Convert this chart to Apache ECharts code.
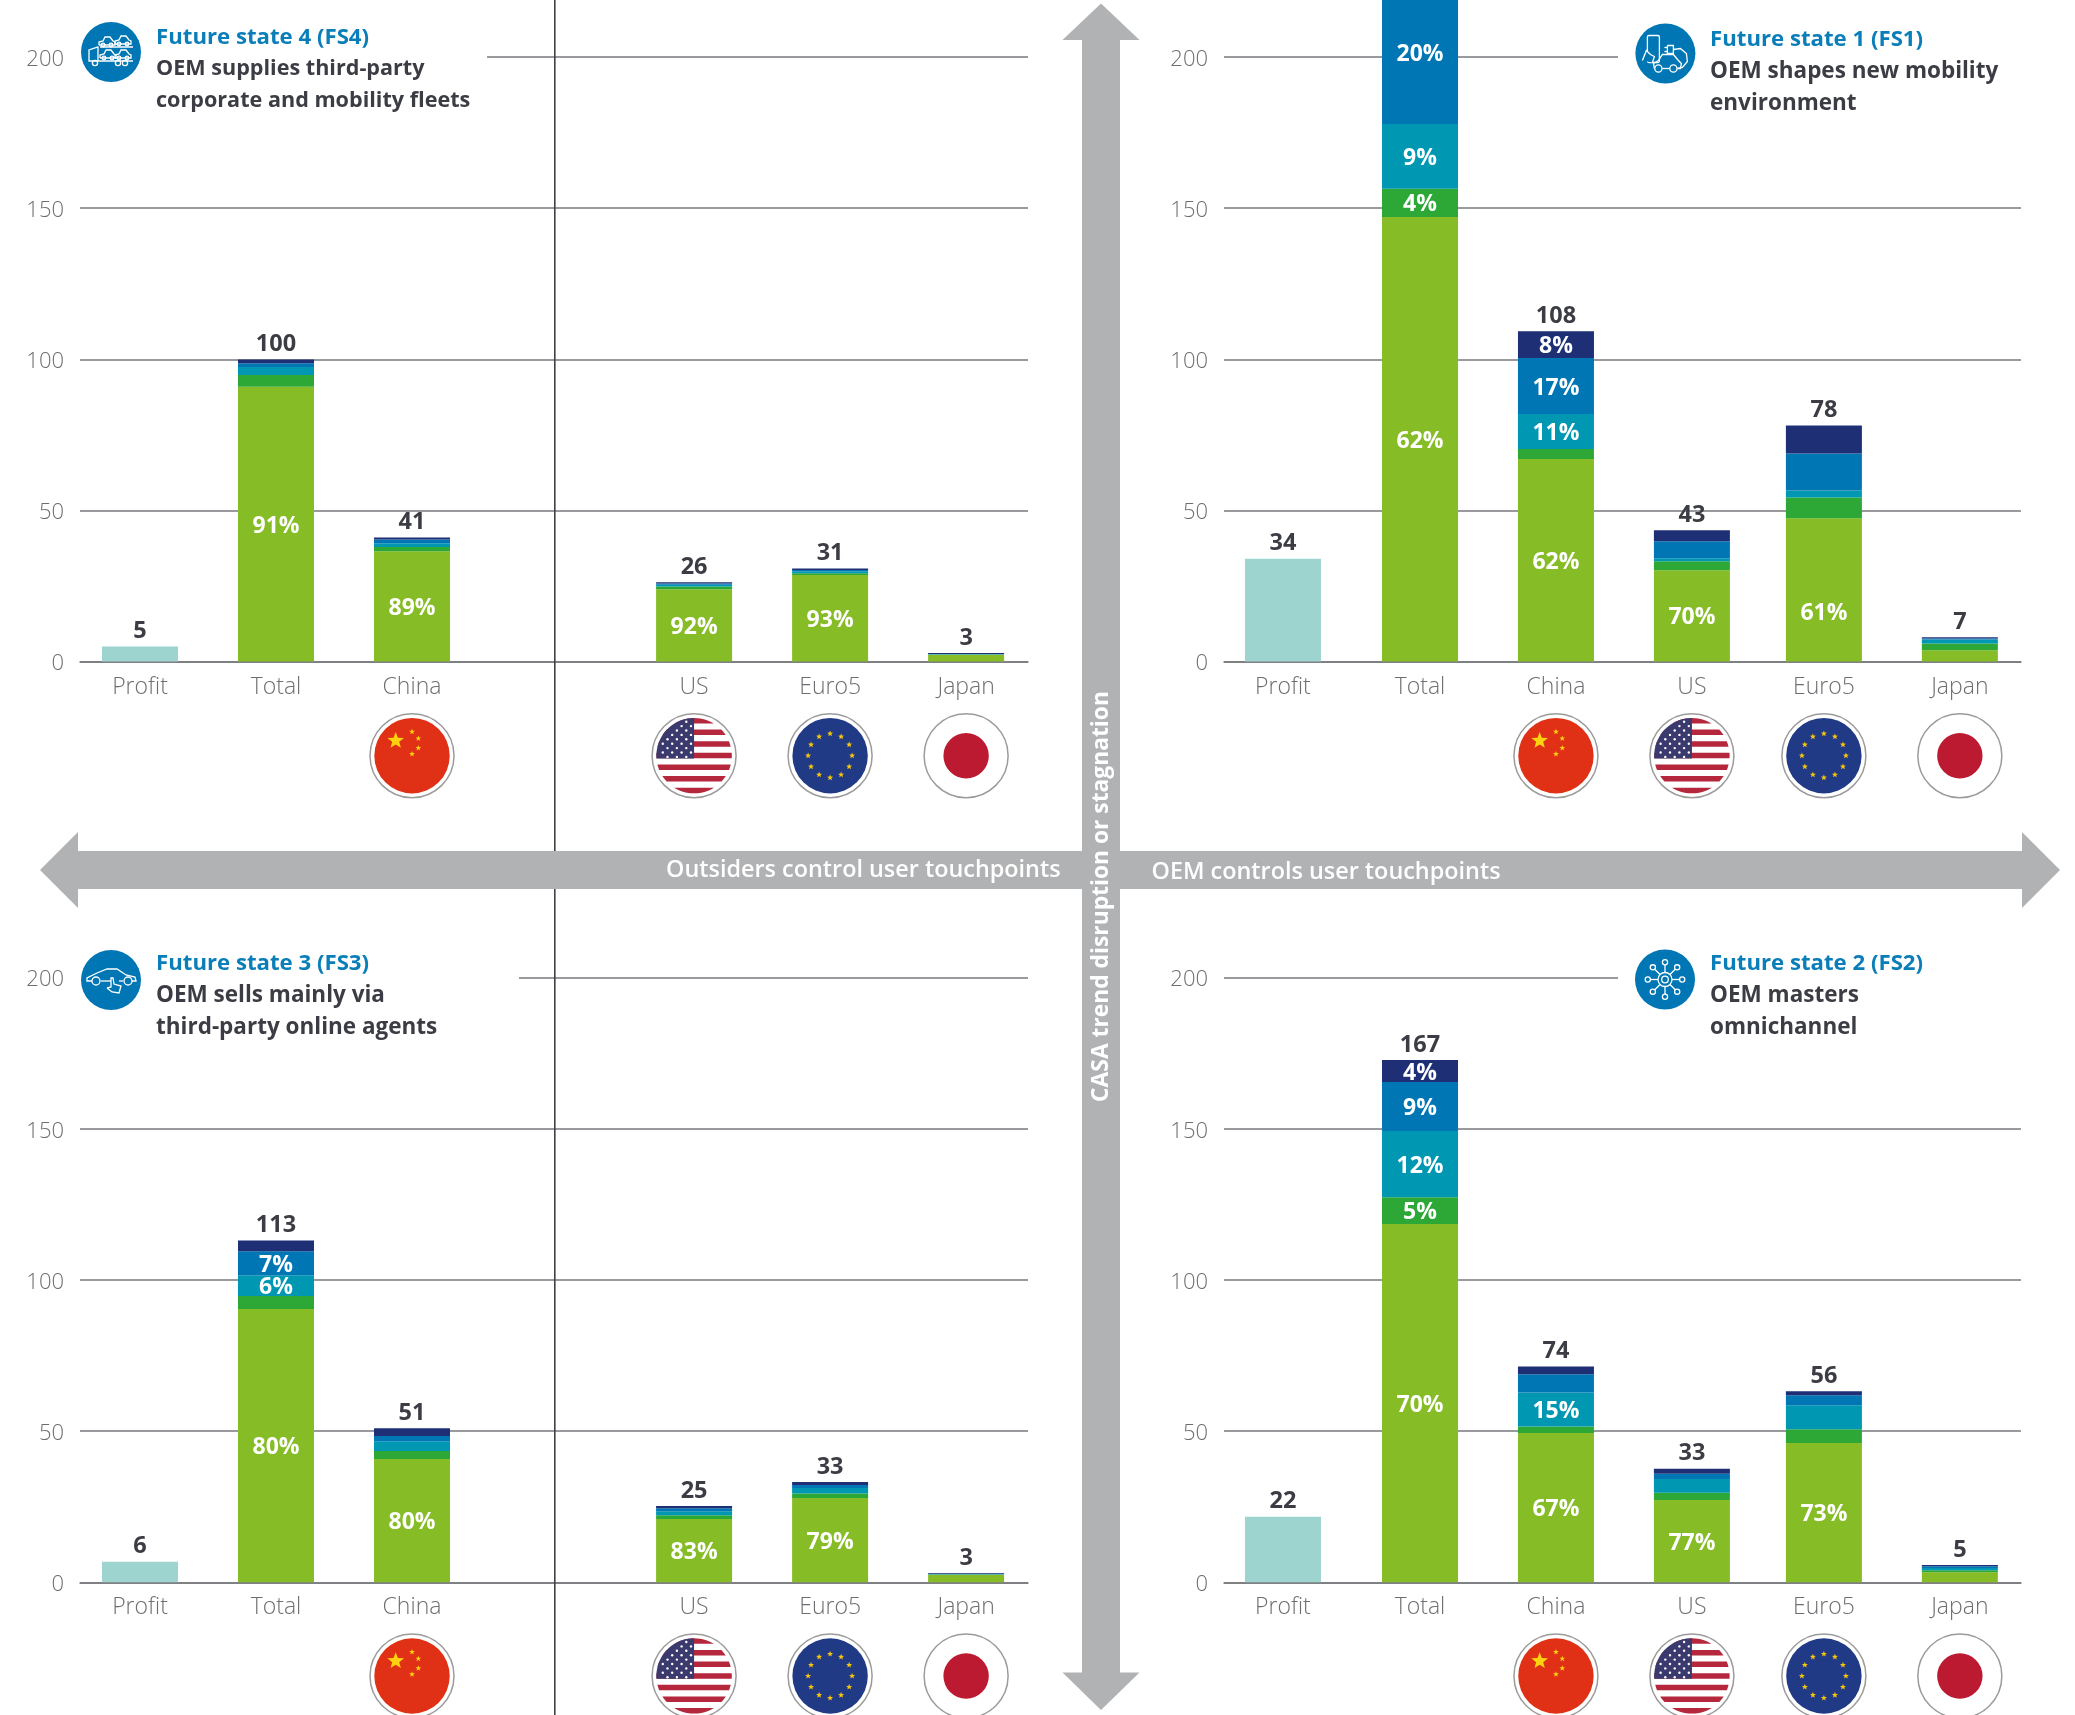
<!DOCTYPE html>
<html>
<head>
<meta charset="utf-8">
<title>Future states</title>
<script src="https://cdn.jsdelivr.net/npm/echarts@6/dist/echarts.min.js"></script>
<style>
  html, body { margin: 0; padding: 0; background: #fff; }
  #view { width: 2075px; height: 1715px; }
</style>
</head>
<body>
<div id="view"></div>
<script>
const categories = ["Profit", "Total", "China", "US", "Euro5", "Japan"];
const yTicks = [0, 50, 100, 150, 200];

// FS4
const fs4Profit = [5, 0, 0, 0, 0, 0];
const fs4Lime = [0, 90.9, 36.5, 23.9, 28.6, 2.2];
const fs4Green = [0, 3.9, 1.4, 0.9, 0.6, 0.1];
const fs4Teal = [0, 2.6, 1.2, 0.6, 0.7, 0.1];
const fs4Blue = [0, 1.3, 1.3, 0.4, 0.4, 0.1];
const fs4Navy = [0, 1.2, 0.6, 0.4, 0.5, 0.3];
const fs4Totals = [5, 100, 41, 26, 31, 3];
const fs4LimePct = [null, 91, 89, 92, 93, null];

// FS1, the Total bar runs off the top of the page so its total is not visible
const fs1Profit = [34, 0, 0, 0, 0, 0];
const fs1Lime = [0, 147.1, 67, 30.2, 47.4, 3.75];
const fs1Green = [0, 9.3, 3.3, 3, 6.9, 2.2];
const fs1Teal = [0, 21.5, 11.6, 1, 2.3, 1.3];
const fs1Blue = [0, 47.4, 18.5, 5.6, 12.2, 0.4];
const fs1Navy = [0, 11.8, 8.9, 3.6, 9.3, 0.4];
const fs1Totals = [34, null, 108, 43, 78, 7];
const fs1LimePct = [null, 62, 62, 70, 61, null];
const fs1GreenPct = [null, 4, null, null, null, null];
const fs1TealPct = [null, 9, 11, null, null, null];
const fs1BluePct = [null, 20, 17, null, null, null];
const fs1NavyPct = [null, null, 8, null, null, null];

// FS3
const fs3Profit = [6.8, 0, 0, 0, 0, 0];
const fs3Lime = [0, 90.4, 40.8, 20.9, 27.9, 2.5];
const fs3Green = [0, 4.3, 2.6, 1.3, 1.5, 0.1];
const fs3Teal = [0, 6.9, 3.3, 1.3, 1.8, 0.1];
const fs3Blue = [0, 7.9, 1.7, 1, 1, 0.1];
const fs3Navy = [0, 3.6, 2.6, 0.7, 1, 0.3];
const fs3Totals = [6, 113, 51, 25, 33, 3];
const fs3LimePct = [null, 80, 80, 83, 79, null];
const fs3TealPct = [null, 6, null, null, null, null];
const fs3BluePct = [null, 7, null, null, null, null];

// FS2
const fs2Profit = [21.7, 0, 0, 0, 0, 0];
const fs2Lime = [0, 118.5, 49.4, 27.2, 46.1, 3.3];
const fs2Green = [0, 8.9, 2.1, 2.4, 4.5, 0.7];
const fs2Teal = [0, 21.9, 11.3, 4.6, 8, 0.7];
const fs2Blue = [0, 16.2, 6, 1.7, 3.3, 0.6];
const fs2Navy = [0, 7.3, 2.6, 1.7, 1.3, 0.4];
const fs2Totals = [22, 167, 74, 33, 56, 5];
const fs2LimePct = [null, 70, 67, 77, 73, null];
const fs2GreenPct = [null, 5, null, null, null, null];
const fs2TealPct = [null, 12, 15, null, null, null];
const fs2BluePct = [null, 9, null, null, null, null];
const fs2NavyPct = [null, 4, null, null, null, null];

const FONT = '"Open Sans", "Noto Sans", sans-serif';
const colors = { profit: "#9ed4cf", lime: "#86bc25", green: "#2da836", teal: "#0097b2", blue: "#0076b4", navy: "#1e2f76" };
const GRID_LINE = "#77787c";
const TICK_TEXT = "#6d6e71";
const DARK_TEXT = "#3c3d44";
const BLUE_TEXT = "#0a7eb8";
const ARROW = "#b1b2b4";

// x axis runs in category steps, the two sides are not evenly spaced
const leftSlots = [0, 1, 2, 4.074, 5.074, 6.074];
const rightSlots = [0, 1.004, 2, 2.996, 3.963, 4.959];

const panels = [
  {
    title: "Future state 4 (FS4)", lines: ["OEM supplies third-party", "corporate and mobility fleets"], lineFont: 21.6,
    textX: 156, textY: 37.3, icon: [111, 52], icon_type: "fleet", mask: [78, 487],
    left: 80, width: 948, top: 57, bottom: 661.5, xMin: -0.441, xMax: 6.529, yMax: 200, slots: leftSlots, flagY: 755.7, clip: true,
    profit: fs4Profit, lime: fs4Lime, green: fs4Green, teal: fs4Teal, blue: fs4Blue, navy: fs4Navy, totals: fs4Totals,
    limePct: fs4LimePct,
  },
  {
    title: "Future state 1 (FS1)", lines: ["OEM shapes new mobility", "environment"], lineFont: 22.5,
    textX: 1710, textY: 39.3, icon: [1665.4, 53.5], icon_type: "plug", mask: [1618, 2025],
    left: 1224, width: 797, top: 0, bottom: 661.5, xMin: -0.432, xMax: 5.407, yMax: 218.9, slots: rightSlots, flagY: 755.7, clip: false,
    profit: fs1Profit, lime: fs1Lime, green: fs1Green, teal: fs1Teal, blue: fs1Blue, navy: fs1Navy, totals: fs1Totals,
    limePct: fs1LimePct, greenPct: fs1GreenPct, tealPct: fs1TealPct, bluePct: fs1BluePct, navyPct: fs1NavyPct,
    limeShift: { 4: 24 }, // the Euro5 label sits lower in its bar
  },
  {
    title: "Future state 3 (FS3)", lines: ["OEM sells mainly via", "third-party online agents"], lineFont: 22.5,
    textX: 156, textY: 963.3, icon: [111, 980], icon_type: "car", mask: [78, 519],
    left: 80, width: 948, top: 977.7, bottom: 1582.3, xMin: -0.441, xMax: 6.529, yMax: 200, slots: leftSlots, flagY: 1676, clip: true,
    profit: fs3Profit, lime: fs3Lime, green: fs3Green, teal: fs3Teal, blue: fs3Blue, navy: fs3Navy, totals: fs3Totals,
    limePct: fs3LimePct, tealPct: fs3TealPct, bluePct: fs3BluePct,
  },
  {
    title: "Future state 2 (FS2)", lines: ["OEM masters", "omnichannel"], lineFont: 22.5,
    textX: 1710, textY: 963.3, icon: [1665, 979.5], icon_type: "hub", mask: [1618, 2025],
    left: 1224, width: 797, top: 977.7, bottom: 1582.3, xMin: -0.432, xMax: 5.407, yMax: 200, slots: rightSlots, flagY: 1676, clip: true,
    profit: fs2Profit, lime: fs2Lime, green: fs2Green, teal: fs2Teal, blue: fs2Blue, navy: fs2Navy, totals: fs2Totals,
    limePct: fs2LimePct, greenPct: fs2GreenPct, tealPct: fs2TealPct, bluePct: fs2BluePct, navyPct: fs2NavyPct,
  },
];

// value comes first in each row: ECharts stacks the first numeric dimension
function barSeries(k, p, name, values, color, pct, shift) {
  return {
    name: name,
    type: "bar",
    xAxisIndex: k,
    yAxisIndex: k,
    stack: "s" + k,
    encode: { x: 1, y: 0 },
    barWidth: 76,
    clip: p.clip,
    silent: true,
    animation: false,
    itemStyle: { color: color },
    data: values.map((v, i) => {
      const row = [v, p.slots[i]];
      if (shift && shift[i]) {
        return { value: row, label: { offset: [0, shift[i]] } };
      }
      return row;
    }),
    label: {
      show: !!pct,
      position: "inside",
      offset: [0, 2],
      color: "#fff",
      fontFamily: FONT,
      fontWeight: 700,
      fontSize: 23,
      formatter: (o) => (pct && pct[o.dataIndex] != null ? pct[o.dataIndex] + "%" : ""),
    },
  };
}

function totalSeries(k, p) {
  return {
    name: "Sum",
    type: "bar",
    xAxisIndex: k,
    yAxisIndex: k,
    stack: "s" + k,
    encode: { x: 1, y: 0 },
    barWidth: 76,
    clip: false,
    silent: true,
    animation: false,
    itemStyle: { color: "transparent" },
    data: p.slots.map((x) => [0, x]),
    label: {
      show: true,
      position: "top",
      distance: 3,
      color: DARK_TEXT,
      fontFamily: FONT,
      fontWeight: 700,
      fontSize: 23.5,
      formatter: (o) => (p.totals[o.dataIndex] != null ? String(p.totals[o.dataIndex]) : ""),
    },
  };
}

const grid = [], xAxis = [], yAxis = [], series = [];
panels.forEach((p, k) => {
  grid.push({ left: p.left, width: p.width, top: p.top, height: p.bottom - p.top, containLabel: false });
  xAxis.push({
    gridIndex: k,
    type: "value",
    min: p.xMin,
    max: p.xMax,
    splitLine: { show: false },
    axisTick: { show: false },
    axisLine: { show: true, lineStyle: { color: GRID_LINE, width: 1.5 } },
    axisLabel: {
      customValues: p.slots,
      margin: 14,
      color: TICK_TEXT,
      fontFamily: FONT,
      fontWeight: 300,
      fontSize: 23,
      formatter: (v) => categories[p.slots.indexOf(v)],
    },
  });
  yAxis.push({
    gridIndex: k,
    type: "value",
    min: 0,
    max: p.yMax,
    axisLine: { show: false },
    axisTick: { show: false, customValues: yTicks },
    splitLine: { show: true, lineStyle: { color: GRID_LINE, width: 1.5 } },
    axisLabel: {
      customValues: yTicks,
      margin: 16,
      // a short line box set from the tick drops the digits about 2px
      verticalAlign: "top",
      lineHeight: 5,
      color: TICK_TEXT,
      fontFamily: FONT,
      fontWeight: 300,
      fontSize: 22,
    },
  });
  series.push(barSeries(k, p, "Profit", p.profit, colors.profit));
  series.push(barSeries(k, p, "Lime", p.lime, colors.lime, p.limePct, p.limeShift));
  series.push(barSeries(k, p, "Green", p.green, colors.green, p.greenPct));
  series.push(barSeries(k, p, "Teal", p.teal, colors.teal, p.tealPct));
  series.push(barSeries(k, p, "Blue", p.blue, colors.blue, p.bluePct));
  series.push(barSeries(k, p, "Navy", p.navy, colors.navy, p.navyPct));
  series.push(totalSeries(k, p));
});

// ---- graphic helpers ----
const circle = (cx, cy, r, style, z) => ({ type: "circle", silent: true, z: z, shape: { cx, cy, r }, style });
const polygon = (points, style, z) => ({ type: "polygon", silent: true, z: z, shape: { points }, style });
const polyline = (points, style, z) => ({ type: "polyline", silent: true, z: z, shape: { points }, style });
const rect = (x, y, width, height, style, z, r) => ({ type: "rect", silent: true, z: z, shape: { x, y, width, height, r: r || 0 }, style });
const label = (text, x, y, font, fill, align, z) => ({
  type: "text", silent: true, z: z,
  style: { text, x, y, fill, font, textAlign: align || "left", textVerticalAlign: "middle" },
});

function starPoints(cx, cy, r) {
  const pts = [];
  for (let i = 0; i < 10; i++) {
    const a = -Math.PI / 2 + (i * Math.PI) / 5;
    const d = i % 2 ? r * 0.42 : r;
    pts.push([cx + d * Math.cos(a), cy + d * Math.sin(a)]);
  }
  return pts;
}

// piece of a disk between two heights, optionally cut on the right
function diskBand(cx, cy, r, y1, y2, xMax) {
  const l = [], rr = [];
  for (let y = y1; y <= y2 + 0.001; y += 0.5) {
    const d = Math.sqrt(Math.max(0, r * r - y * y));
    l.push([cx - d, cy + y]);
    rr.push([xMax != null ? Math.min(cx + d, xMax) : cx + d, cy + y]);
  }
  return rr.concat(l.reverse());
}

function flag(name, cx, cy) {
  const out = [circle(cx, cy, 42, { fill: "#fff", stroke: "#9b9b9b", lineWidth: 1.5 }, 6)];
  const r = 37.7;
  if (name === "China") {
    out.push(circle(cx, cy, r, { fill: "#e03015" }, 7));
    out.push(polygon(starPoints(cx - 16.3, cy - 15, 8.8), { fill: "#fdd20e" }, 8));
    [[0, -24], [6.3, -17.3], [6.3, -7.7], [0, -1.7]].forEach((s) => {
      out.push(polygon(starPoints(cx + s[0], cy + s[1], 3), { fill: "#fdd20e" }, 8));
    });
  } else if (name === "US") {
    out.push(circle(cx, cy, r, { fill: "#fff" }, 7));
    for (let k = 0; k < 7; k++) {
      const y1 = -r + k * 11.62;
      out.push(polygon(diskBand(cx, cy, r, y1, y1 + 5.8), { fill: "#b5273c" }, 8));
    }
    out.push(polygon(diskBand(cx, cy, r, -r, 3, cx), { fill: "#3b3a6e" }, 9));
    for (let row = 0; row < 9; row++) {
      const y = -34 + row * 4.4;
      for (let x = -36 + (row % 2 ? 4.7 : 0); x < 0; x += 9.4) {
        if (x * x + y * y < 35 * 35) out.push(circle(cx + x, cy + y, 1.2, { fill: "#fff" }, 10));
      }
    }
  } else if (name === "Euro5") {
    out.push(circle(cx, cy, r, { fill: "#203a86" }, 7));
    for (let k = 0; k < 12; k++) {
      const a = (k * Math.PI) / 6;
      out.push(polygon(starPoints(cx + 22 * Math.sin(a), cy - 22 * Math.cos(a), 3.2), { fill: "#f8c50d" }, 8));
    }
  } else {
    out.push(circle(cx, cy, 22.7, { fill: "#bc1a31" }, 7));
  }
  return out;
}

function smallCar(x, y, line) {
  return [
    polyline([[x - 8, y + 3], [x - 8, y], [x - 4, y - 1], [x - 2, y - 5], [x + 3, y - 5], [x + 6, y - 1], [x + 8, y], [x + 8, y + 3], [x - 8, y + 3]], line, 11),
    circle(x - 4, y + 3, 1.8, line, 11),
    circle(x + 4, y + 3, 1.8, line, 11),
  ];
}

function icon(type, cx, cy) {
  const line = { stroke: "#fff", fill: "none", lineWidth: 1.3 };
  const out = [circle(cx, cy, 30, { fill: colors.blue }, 10)];
  if (type === "hub") {
    out.push(circle(cx, cy, 7, line, 11), circle(cx, cy, 3.3, line, 11));
    for (let k = 0; k < 8; k++) {
      const a = (k * Math.PI) / 4;
      out.push(polyline([[cx + 7 * Math.sin(a), cy - 7 * Math.cos(a)], [cx + 14.5 * Math.sin(a), cy - 14.5 * Math.cos(a)]], line, 11));
      out.push(circle(cx + 17.2 * Math.sin(a), cy - 17.2 * Math.cos(a), 2.6, line, 11));
    }
  } else if (type === "car") {
    out.push(polyline([[cx - 19, cy + 1], [cx - 24, cy + 1], [cx - 24, cy - 2], [cx - 14, cy - 7], [cx - 4, cy - 11], [cx + 6, cy - 11], [cx + 15, cy - 5], [cx + 24, cy - 3], [cx + 25, cy + 1], [cx + 21, cy + 1]], line, 11));
    out.push(polyline([[cx - 10, cy + 1], [cx + 0, cy + 1]], line, 11), polyline([[cx + 8, cy + 1], [cx + 12, cy + 1]], line, 11));
    out.push(circle(cx - 15, cy + 1, 4, line, 11), circle(cx + 17, cy + 1, 4, line, 11));
    out.push(polyline([[cx - 4, cy + 8], [cx + 1, cy + 12], [cx + 8, cy + 13], [cx + 10, cy + 6], [cx + 3, cy + 4], [cx + 2, cy - 2], [cx, cy - 2], [cx, cy + 7], [cx - 4, cy + 8]], { stroke: "#fff", fill: colors.blue, lineWidth: 1.3 }, 12));
  } else if (type === "plug") {
    out.push(rect(cx - 18, cy - 18, 12, 27, line, 11, 1.5));
    out.push(polyline([[cx - 23, cy + 7], [cx - 19, cy - 3], [cx - 15, cy + 1], [cx - 11, cy + 3], [cx - 13, cy + 9]], { stroke: "#fff", fill: colors.blue, lineWidth: 1.3 }, 12));
    out.push(polyline([[cx + 2, cy - 8], [cx + 8, cy - 8], [cx + 8, cy], [cx + 2, cy], [cx + 2, cy - 8]], line, 11));
    out.push(polyline([[cx - 1, cy - 6], [cx + 2, cy - 6]], line, 11), polyline([[cx - 1, cy - 2], [cx + 2, cy - 2]], line, 11));
    out.push(polyline([[cx + 8, cy - 4], [cx + 15, cy - 5], [cx + 21, cy], [cx + 22, cy + 8], [cx + 17, cy + 14], [cx + 12, cy + 15]], line, 11));
    out.push(polyline([[cx - 11, cy + 15], [cx - 12, cy + 10], [cx - 7, cy + 7], [cx - 3, cy + 1], [cx + 8, cy + 1], [cx + 13, cy + 7], [cx + 16, cy + 10], [cx + 15, cy + 15], [cx + 12, cy + 15]], line, 11));
    out.push(polyline([[cx - 3, cy + 15], [cx + 4, cy + 15]], line, 11));
    out.push(circle(cx - 7, cy + 15, 3.6, line, 11), circle(cx + 8, cy + 15, 3.6, line, 11));
  } else {
    // truck with cars
    out.push(polyline([[cx - 13, cy + 9], [cx - 22, cy + 9], [cx - 22, cy - 2], [cx - 13, cy - 5], [cx - 13, cy + 9]], line, 11));
    out.push(polyline([[cx - 13, cy + 9], [cx + 22, cy + 9]], line, 11));
    out.push(polyline([[cx - 11, cy - 5], [cx + 22, cy - 5]], line, 11));
    out.push(circle(cx - 16, cy + 11, 2.6, line, 11), circle(cx + 7, cy + 11, 2.6, line, 11), circle(cx + 14, cy + 11, 2.6, line, 11));
    out.push(...smallCar(cx - 4, cy - 10, line), ...smallCar(cx + 12, cy - 11, line));
    out.push(...smallCar(cx - 3, cy + 3, line), ...smallCar(cx + 12, cy + 3, line));
  }
  return out;
}

function chrome(chart) {
  const els = [];

  // vertical rule in the left half
  els.push(rect(554, 0, 1.6, 1715, { fill: "#3f4045" }, 3));

  // big arrows
  els.push(polygon([[40, 870], [78, 832], [78, 851], [2022, 851], [2022, 832], [2060, 870], [2022, 908], [2022, 889], [78, 889], [78, 908]], { fill: ARROW }, 5));
  els.push(polygon([[1101, 3.5], [1139.5, 40], [1120, 40], [1120, 1672.5], [1139.5, 1672.5], [1101, 1710], [1062.5, 1672.5], [1082, 1672.5], [1082, 40], [1062.5, 40]], { fill: ARROW }, 5));
  els.push(label("Outsiders control user touchpoints", 666, 870.3, '600 23.4px ' + FONT, "#fff", "left", 6));
  els.push(label("OEM controls user touchpoints", 1151.5, 872.8, '600 23.4px ' + FONT, "#fff", "left", 6));
  const axisText = label("CASA trend disruption or stagnation", 0, 0, '700 22.8px ' + FONT, "#fff", "center", 6);
  axisText.x = 1102;
  axisText.y = 896.5;
  axisText.rotation = Math.PI / 2;
  els.push(axisText);

  panels.forEach((p, k) => {
    // the 200 line stops short of the heading
    els.push(rect(p.mask[0], p.top === 0 ? 50 : p.top - 7, p.mask[1] - p.mask[0], 14, { fill: "#fff" }, 1));
    els.push(...icon(p.icon_type, p.icon[0], p.icon[1]));
    els.push(label(p.title, p.textX, p.textY, '700 22.2px ' + FONT, BLUE_TEXT, "left", 12));
    p.lines.forEach((t, i) => {
      els.push(label(t, p.textX, p.textY + 32 * (i + 1), '700 ' + p.lineFont + 'px ' + FONT, DARK_TEXT, "left", 12));
    });
    ["China", "US", "Euro5", "Japan"].forEach((name) => {
      const x = chart.convertToPixel({ xAxisIndex: k }, p.slots[categories.indexOf(name)]);
      els.push(...flag(name, x, p.flagY));
    });
  });
  return els;
}

const myChart = echarts.init(document.getElementById("view"), null, { renderer: "canvas" });
myChart.setOption({
  backgroundColor: "#fff",
  animation: false,
  tooltip: { show: false },
  grid: grid,
  xAxis: xAxis,
  yAxis: yAxis,
  series: series,
});
myChart.setOption({ graphic: { elements: chrome(myChart) } });
</script>
</body>
</html>
